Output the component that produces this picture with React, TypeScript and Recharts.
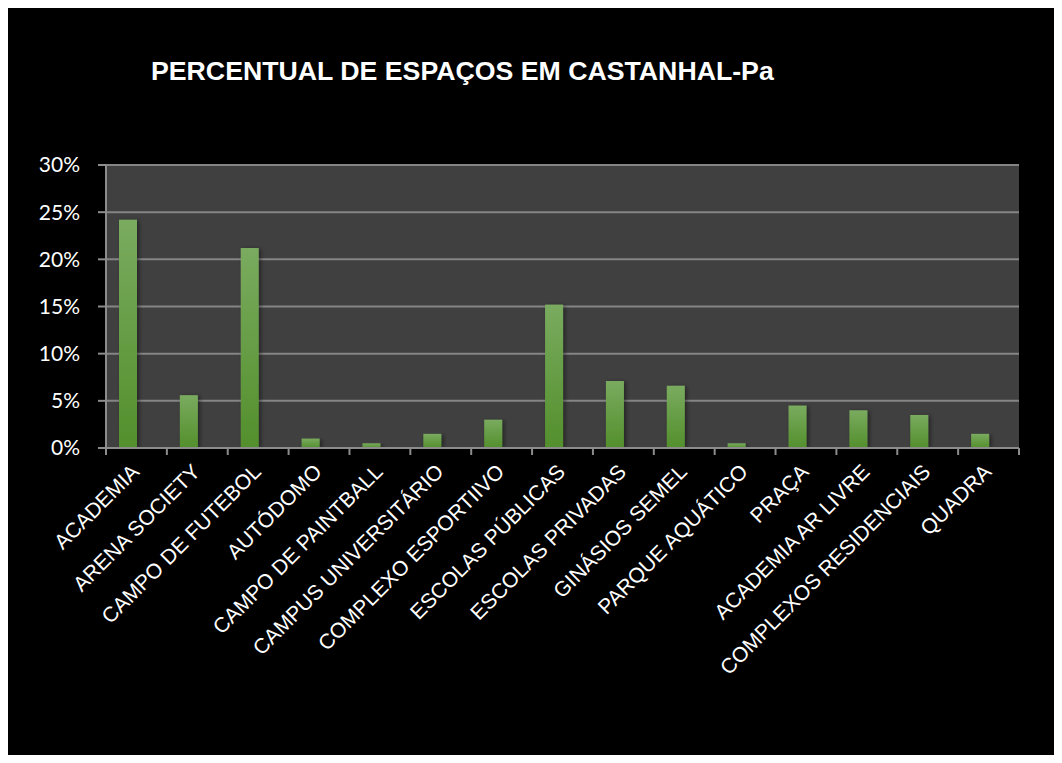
import { BarChart, Bar, XAxis, YAxis, CartesianGrid } from 'recharts';

const categories = [
  'ACADEMIA',
  'ARENA SOCIETY',
  'CAMPO DE FUTEBOL',
  'AUTÓDOMO',
  'CAMPO DE PAINTBALL',
  'CAMPUS UNIVERSITÁRIO',
  'COMPLEXO ESPORTIIVO',
  'ESCOLAS PÚBLICAS',
  'ESCOLAS PRIVADAS',
  'GINÁSIOS SEMEL',
  'PARQUE AQUÁTICO',
  'PRAÇA',
  'ACADEMIA AR LIVRE',
  'COMPLEXOS RESIDENCIAIS',
  'QUADRA',
];

// percent of spaces per category
const percentages = [24.2, 5.6, 21.2, 1.0, 0.5, 1.5, 3.0, 15.2, 7.1, 6.6, 0.5, 4.5, 4.0, 3.5, 1.5];

const yTicks = [0, 5, 10, 15, 20, 25, 30];

const TITLE = 'PERCENTUAL DE ESPAÇOS EM CASTANHAL-Pa';

const data = categories.map((name, i) => ({ name, value: percentages[i] }));

const AXIS_GRAY = '#8c8c8c';
// Excel draws the bars a little left of the category centre
const BAR_SHIFT = -8;

const XTick = (props: any) => {
  const { x, y, payload, index, width } = props;
  const bw = (width || 913) / categories.length;
  const tx = x + 4;
  const ty = y + 25;
  return (
    <g>
      <line x1={x - bw / 2} y1={y} x2={x - bw / 2} y2={y + 7} stroke={AXIS_GRAY} strokeWidth={2} />
      {index === categories.length - 1 && (
        <line x1={x + bw / 2} y1={y} x2={x + bw / 2} y2={y + 7} stroke={AXIS_GRAY} strokeWidth={2} />
      )}
      <text
        x={tx}
        y={ty}
        transform={`rotate(-45, ${tx}, ${ty})`}
        textAnchor="end"
        fill="#ffffff"
        fontSize={21}
        fontFamily="'Liberation Sans', Arial, sans-serif"
      >
        {payload.value}
      </text>
    </g>
  );
};

const BarShape = (props: any) => {
  const { x, y, width, height } = props;
  if (!height || height <= 0) return null;
  return (
    <rect
      x={x + BAR_SHIFT}
      y={y}
      width={width}
      height={height}
      fill="url(#barGrad)"
      filter="url(#barShadow)"
    />
  );
};

export default function App() {
  return (
    <div style={{ position: 'relative', width: 1046, height: 747, background: '#000' }}>
      <div
        style={{
          position: 'absolute',
          left: 143,
          top: 50,
          fontFamily: "'Liberation Sans', Arial, sans-serif",
          fontWeight: 'bold',
          fontSize: 26.7,
          lineHeight: '26.7px',
          color: '#fff',
          whiteSpace: 'nowrap',
        }}
      >
        {TITLE}
      </div>
      <BarChart
        width={1046}
        height={747}
        data={data}
        margin={{ top: 157, right: 35, bottom: 247, left: 0 }}
      >
        <defs>
          <linearGradient id="barGrad" x1="0" y1="0" x2="0" y2="1">
            <stop offset="0%" stopColor="#7aab5f" />
            <stop offset="100%" stopColor="#538f2c" />
          </linearGradient>
          <filter id="barShadow" x="-30%" y="-5%" width="160%" height="110%">
            <feDropShadow dx="2" dy="1" stdDeviation="2" floodColor="#000" floodOpacity="0.45" />
          </filter>
        </defs>
        <CartesianGrid
          vertical={false}
          fill="#404040"
          fillOpacity={1}
          stroke="#858585"
          strokeWidth={2}
          horizontalValues={yTicks}
        />
        <XAxis
          dataKey="name"
          interval={0}
          height={60}
          axisLine={{ stroke: AXIS_GRAY, strokeWidth: 2 }}
          tickLine={false}
          tickSize={0}
          tickMargin={0}
          tick={<XTick />}
        />
        <YAxis
          domain={[0, 30]}
          ticks={yTicks}
          interval={0}
          width={98}
          tickFormatter={(v: number) => `${v}%`}
          axisLine={{ stroke: AXIS_GRAY, strokeWidth: 2 }}
          tickLine={{ stroke: AXIS_GRAY, strokeWidth: 2 }}
          tickSize={8}
          tickMargin={18}
          tick={{ fill: '#ffffff', fontSize: 21, fontFamily: 'Lato, sans-serif' }}
        />
        <Bar
          dataKey="value"
          fill="url(#barGrad)"
          barSize={18}
          shape={<BarShape />}
          isAnimationActive={false}
        />
      </BarChart>
    </div>
  );
}
